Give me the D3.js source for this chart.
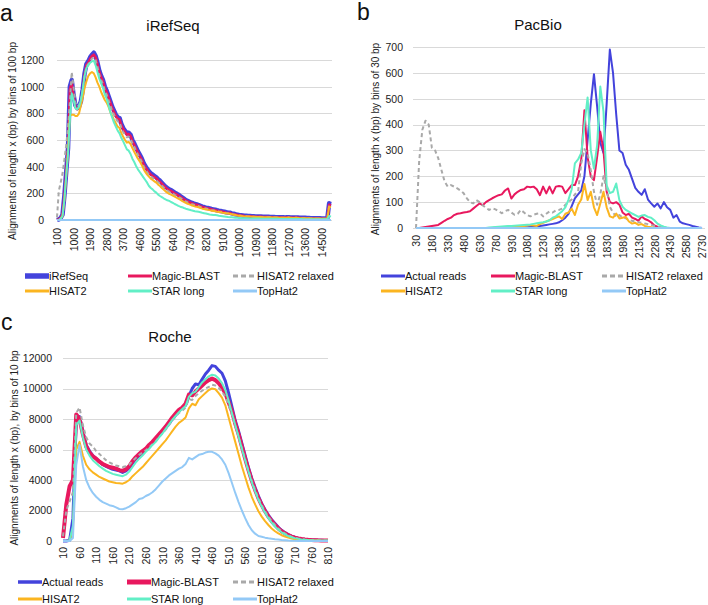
<!DOCTYPE html>
<html><head><meta charset="utf-8">
<script src="https://cdn.jsdelivr.net/npm/d3@7"></script>
<style>
body{margin:0;background:#fff;}
svg{font-family:"Liberation Sans", Arial, Helvetica, sans-serif;}
</style></head><body>
<svg id="chart" width="708" height="605"></svg>
<script>
// ---------- Panel a: iRefSeq (bins of 100 bp) ----------
const aCategories = d3.range(100, 15001, 100);
const aTickLabels = [100,1000,1900,2800,3700,4600,5500,6400,7300,8200,9100,10000,10900,11800,12700,13600,14500];
const aYTicks = [0,200,400,600,800,1000,1200];
const a_iRefSeq = [0,5,15,40,180,360,540,1000,1050,940,
860,840,850,890,980,1100,1170,1190,1220,1240,
1255,1230,1180,1120,1080,1050,1000,970,930,890,
850,820,790,770,765,720,690,670,650,655,
640,600,575,545,515,490,465,430,405,385,
365,350,340,330,320,305,295,280,265,250,
240,230,225,215,205,198,190,180,170,160,
150,143,137,130,126,120,117,112,106,100,
97,93,90,87,83,80,77,73,70,68,
65,62,58,56,55,50,47,43,40,37,
36,34,32,31,30,30,29,28,27,26,
27,26,25,25,24,24,23,22,22,21,
21,20,20,20,19,20,21,19,18,18,
19,18,17,16,17,16,15,15,14,14,
14,13,13,13,12,12,12,12,125,120];
const a_magic = [0,5,15,40,170,350,530,980,1030,930,
850,830,840,880,970,1090,1160,1180,1210,1230,
1240,1220,1170,1110,1070,1040,990,960,920,880,
840,810,780,760,755,710,680,660,640,645,
630,590,565,535,505,480,455,420,395,375,
355,340,330,322,312,297,287,272,258,243,
233,223,218,209,199,192,184,175,165,156,
146,139,133,127,123,117,114,109,103,97,
94,90,87,84,80,77,74,70,67,65,
62,59,55,53,52,47,44,41,38,35,
34,32,30,29,28,28,27,26,25,24,
25,24,23,23,22,22,21,20,20,19,
19,18,18,18,17,18,19,17,16,16,
17,16,15,14,15,14,13,13,12,12,
12,11,11,11,10,10,10,11,115,110];
const a_hisatRelaxed = [20,220,280,350,450,560,700,880,1110,1000,
880,850,860,900,980,1080,1150,1170,1190,1210,
1220,1200,1150,1090,1050,1020,970,940,900,860,
820,790,760,740,735,690,660,640,620,625,
610,575,550,520,490,465,440,405,380,360,
340,326,316,307,297,283,273,259,245,231,
221,212,207,198,189,182,175,166,157,148,
139,132,126,120,116,111,108,103,98,92,
89,86,83,80,76,73,70,67,64,62,
59,56,52,50,49,45,42,39,36,33,
32,30,29,28,27,27,26,25,24,23,
24,23,22,22,21,21,20,19,19,18,
18,17,17,17,16,17,18,16,15,15,
16,15,14,13,14,13,12,12,11,11,
11,10,10,10,9,9,9,10,110,105];
const a_hisat2 = [0,0,10,30,150,330,520,780,790,790,
780,780,800,860,920,990,1040,1080,1100,1110,
1100,1070,1030,1000,960,930,900,880,850,810,
780,750,725,700,690,650,625,600,580,585,
570,540,512,485,460,440,415,385,360,340,
325,310,300,290,280,265,255,240,228,215,
205,196,190,182,175,168,160,152,144,136,
128,122,117,111,107,102,99,95,90,85,
82,79,76,74,70,68,65,62,60,58,
55,53,49,48,47,43,40,37,34,31,
31,29,27,26,26,26,25,24,23,22,
23,22,21,21,20,20,20,19,19,18,
18,17,17,17,16,17,18,16,15,15,
16,15,14,14,14,14,13,13,12,12,
12,11,11,11,10,10,10,10,100,95];
const a_star = [0,0,10,30,150,330,500,750,950,900,
840,830,850,900,980,1080,1140,1160,1180,1190,
1195,1160,1110,1060,1025,990,940,910,860,810,
770,730,700,670,650,615,590,560,530,520,
495,460,435,405,380,360,340,320,300,280,
255,240,230,215,205,190,180,172,163,155,
148,143,135,128,120,113,106,100,96,90,
85,81,77,73,70,66,64,62,58,54,
51,48,45,42,40,38,37,35,32,30,
28,26,24,22,21,20,19,17,16,15,
14,14,13,13,12,12,12,11,11,11,
11,10,10,10,10,10,9,9,9,9,
9,8,8,8,8,8,8,8,7,7,
7,7,7,7,6,6,6,6,6,6,
6,5,5,5,5,5,5,5,30,25];
const a_tophat = [0,0,0,0,0,0,0,0,0,0,
0,0,0,0,0,0,0,0,0,0,
0,0,0,0,0,0,0,0,0,0,
0,0,0,0,0,0,0,0,0,0,
0,0,0,0,0,0,0,0,0,0,
0,0,0,0,0,0,0,0,0,0,
0,0,0,0,0,0,0,0,0,0,
0,0,0,0,0,0,0,0,0,0,
0,0,0,0,0,0,0,0,0,0,
0,0,0,0,0,0,0,0,0,0,
0,0,0,0,0,0,0,0,0,0,
0,0,0,0,0,0,0,0,0,0,
0,0,0,0,0,0,0,0,0,0,
0,0,0,0,0,0,0,0,0,0,
0,0,0,0,0,0,0,0,0,0];

// ---------- Panel b: PacBio (bins of 30 bp) ----------
const bCategories = d3.range(30, 2731, 30);
const bTickLabels = [30,180,330,480,630,780,930,1080,1230,1380,1530,1680,1830,1980,2130,2280,2430,2580,2730];
const bYTicks = [0,100,200,300,400,500,600,700];
const b_actual = [0,0,0,0,0,0,0,0,0,0,
0,0,0,0,0,0,0,0,0,0,
0,0,0,0,0,0,0,0,0,0,
1,1,2,2,3,3,4,5,6,8,
10,12,14,16,18,22,30,40,55,85,
115,130,145,200,340,480,595,470,330,290,
480,690,600,440,300,290,245,225,190,155,
140,128,150,110,95,82,95,76,100,80,
70,40,50,25,18,15,12,8,5,2,0];
const b_magic = [0,0,2,4,6,8,10,12,20,28,
35,40,50,55,57,60,62,65,75,85,
95,88,100,108,115,121,127,130,145,153,
114,130,140,147,150,160,158,160,150,127,
160,134,160,134,160,162,160,135,150,166,
166,200,265,455,275,200,185,275,372,300,
140,100,95,100,90,60,50,55,40,35,
28,45,35,30,22,10,5,2,0,0,
0,0,0,0,0,0,0,0,0,0,0];
const b_hisatRelaxed = [0,260,380,415,400,310,300,270,224,180,
160,166,160,153,145,134,115,100,95,108,
100,88,78,70,76,72,65,57,65,70,
60,51,55,70,60,50,45,51,55,57,
45,55,64,60,68,70,75,90,100,110,
130,140,250,305,289,224,140,90,130,200,
150,82,60,43,50,40,38,30,28,24,
22,20,17,15,12,8,5,3,0,0,
0,0,0,0,0,0,0,0,0,0,0];
const b_hisat2 = [0,0,0,0,0,0,0,0,0,0,
0,0,0,0,0,0,0,0,0,0,
0,0,0,0,0,2,3,3,4,5,
5,5,6,7,8,10,12,10,8,15,
20,25,30,35,40,45,35,55,60,75,
50,90,110,170,108,140,80,50,95,140,
80,45,40,56,37,40,43,25,17,20,
12,15,8,5,3,0,0,0,0,0,
0,0,0,0,0,0,0,0,0,0,0];
const b_star = [0,0,0,0,0,0,0,0,0,0,
0,0,0,0,0,0,0,0,0,0,
0,0,0,2,3,4,5,6,7,8,
8,9,10,11,12,13,14,16,18,20,
22,25,30,40,45,55,65,80,110,150,
250,265,290,400,505,300,230,320,547,450,
165,135,140,172,108,82,70,63,56,50,
43,48,50,43,40,30,17,10,5,2,
0,0,0,0,0,0,0,0,0,0,0];
const b_tophat = [0,0,0,0,0,0,0,0,0,0,
0,0,0,0,0,0,0,0,0,0,
0,0,0,0,0,0,0,0,0,0,
0,0,0,0,0,0,0,0,0,0,
0,0,0,0,0,0,0,0,0,0,
0,0,0,0,0,0,0,0,0,0,
0,0,0,0,0,0,0,0,0,0,
0,0,0,0,0,0,0,0,0,0,
0,0,0,0,0,0,0,0,0,0,0];

// ---------- Panel c: Roche (bins of 10 bp) ----------
const cCategories = d3.range(10, 811, 10);
const cTickLabels = [10,60,110,160,210,260,310,360,410,460,510,560,610,660,710,760,810];
const cYTicks = [0,2000,4000,6000,8000,10000,12000];
const c_actual = [0,0,50,1500,7900,8150,7200,6300,5900,5600,
5400,5200,5000,4900,4800,4700,4650,4600,4500,4600,
4800,5100,5400,5600,5750,6000,6200,6450,6650,6900,
7150,7400,7700,8000,8250,8500,8750,8900,9500,10000,
10300,10250,10600,10950,11200,11500,11450,11200,11000,10500,
9700,8800,7900,7200,6400,5600,4800,4100,3500,2950,
2450,2050,1700,1400,1150,900,700,550,420,320,
250,190,140,110,90,70,60,50,45,40,40];
const c_magic = [200,2400,3600,4000,8300,8000,7000,6200,5800,5550,
5400,5200,5050,4950,4850,4800,4750,4650,4600,4700,
4900,5250,5500,5700,5900,6050,6300,6500,6750,7000,
7250,7500,7800,8100,8350,8600,8750,9000,9600,9550,
9800,10000,10200,10400,10550,10650,10550,10350,10050,9700,
9100,8500,7700,7000,6200,5400,4650,3950,3350,2800,
2350,1950,1600,1300,1050,820,640,500,380,290,
220,170,130,100,80,65,55,45,40,35,35];
const c_hisatRelaxed = [300,2000,2600,3200,8400,8750,7600,6800,6400,6200,
5900,5700,5500,5300,5150,5050,4950,4900,4850,4900,
5000,5250,5450,5650,5800,5950,6150,6350,6550,6800,
7050,7300,7600,7900,8150,8400,8550,8750,9300,9250,
9500,9700,9850,10000,10100,10250,10200,10050,9800,9450,
8900,8300,7550,6850,6100,5350,4600,3950,3350,2800,
2350,1950,1600,1300,1050,820,640,500,380,290,
220,170,130,100,80,65,55,45,40,35,35];
const c_hisat2 = [0,0,30,800,6000,6500,5600,5000,4700,4500,
4350,4200,4100,4000,3900,3850,3800,3780,3760,3850,
4000,4250,4450,4650,4850,5100,5350,5600,5850,6100,
6350,6600,6900,7200,7500,7750,7900,8100,8700,9000,
8900,9300,9500,9700,9900,10000,9950,9700,9400,8900,
8100,7300,6500,5700,4900,4200,3500,2900,2400,1950,
1600,1300,1050,820,640,500,380,290,220,170,
120,90,70,55,45,35,30,25,20,20,20];
const c_star = [0,0,50,1000,7600,7900,6800,6000,5600,5300,
5100,4900,4750,4600,4500,4400,4350,4300,4250,4350,
4550,4850,5150,5400,5600,5850,6050,6300,6500,6800,
7050,7350,7650,7950,8200,8450,8650,8850,9450,9700,
9800,10100,10400,10600,10800,10900,10850,10650,10350,9900,
9200,8400,7600,6850,6050,5300,4550,3850,3250,2700,
2250,1850,1500,1200,950,740,570,430,330,250,
190,140,105,80,60,50,40,35,30,30,30];
const c_tophat = [0,0,0,200,5000,6300,4900,4000,3500,3150,
2900,2700,2550,2450,2350,2300,2200,2100,2080,2150,
2250,2400,2550,2750,2800,2950,3050,3200,3400,3650,
3900,4100,4300,4450,4600,4750,4850,5050,5450,5350,
5500,5650,5700,5800,5850,5850,5750,5600,5350,5000,
4450,3800,3150,2550,2000,1500,1050,700,480,330,
280,220,180,150,120,100,70,50,30,20,
10,5,0,0,0,0,0,0,0,0,0];

// ---------- styles ----------
const COL = {blue:"#4343dc", magic:"#e8185e", grey:"#a9a9a9", hisat:"#fbb520", star:"#62efc6", tophat:"#93c9f6"};

const svg = d3.select("#chart");

function drawPanel(cfg){
  const g = svg.append("g");
  const x = d3.scalePoint().domain(cfg.categories).range([cfg.x0, cfg.x1]);
  const y = d3.scaleLinear().domain([0, cfg.ymax]).range([cfg.yb, cfg.yt]);

  // gridlines
  g.append("g").selectAll("line").data(cfg.yTicks).join("line")
    .attr("x1", cfg.gx0).attr("x2", cfg.gx1)
    .attr("y1", d => Math.round(y(d)) + 0.5).attr("y2", d => Math.round(y(d)) + 0.5)
    .attr("stroke", "#d9d9d9").attr("stroke-width", 1);

  // y axis
  const ya = g.append("g").attr("transform", `translate(${cfg.yLabelRight},0)`)
    .call(d3.axisLeft(y).tickValues(cfg.yTicks).tickFormat(d3.format("d")).tickSize(0).tickPadding(0));
  ya.select(".domain").remove();
  ya.attr("font-family", null).attr("font-size", null);
  ya.selectAll("text").attr("font-size", "10.5px").attr("fill", "#222");

  // x axis
  const xa = g.append("g").attr("transform", `translate(0,${cfg.yb})`)
    .call(d3.axisBottom(x).tickValues(cfg.xTicks).tickFormat(d3.format("d")).tickSize(0));
  xa.select(".domain").remove();
  xa.attr("font-family", null).attr("font-size", null);
  xa.selectAll("text")
    .attr("transform", "rotate(-90)")
    .attr("text-anchor", "end")
    .attr("x", -cfg.xGap).attr("y", 0).attr("dy", "0.35em")
    .attr("font-size", "10.5px").attr("fill", "#222");

  // y axis title
  g.append("text")
    .attr("transform", `translate(${cfg.yTitleX},${cfg.yTitleY}) rotate(-90)`)
    .attr("text-anchor", "middle").attr("dy", "0.35em")
    .attr("font-size", "10px").attr("fill", "#222")
    .text(cfg.yTitle);

  // title
  g.append("text").attr("x", cfg.titleX).attr("y", cfg.titleY)
    .attr("text-anchor", "middle").attr("font-size", "15px").attr("fill", "#111")
    .text(cfg.title);

  // panel letter
  g.append("text").attr("x", cfg.letterX).attr("y", cfg.letterY)
    .attr("font-size", "23px").attr("fill", "#111").text(cfg.letter);

  // series
  const line = d3.line().x((d, i) => x(cfg.categories[i])).y(d => y(d));
  cfg.series.forEach(s => {
    g.append("path").datum(s.values)
      .attr("d", line)
      .attr("fill", "none")
      .attr("stroke", s.color)
      .attr("stroke-width", s.width)
      .attr("stroke-dasharray", s.dash || null)
      .attr("stroke-linejoin", "round");
  });

  // legend
  const lg = g.append("g");
  cfg.series.forEach((s, i) => {
    const col = i % 3, row = Math.floor(i / 3);
    const lx = cfg.legendCols[col], ly = cfg.legendRows[row];
    lg.append("line").attr("x1", lx).attr("x2", lx + 24).attr("y1", ly).attr("y2", ly)
      .attr("stroke", s.color).attr("stroke-width", s.legendWidth || s.width + 0.5)
      .attr("stroke-dasharray", s.dash ? "5,3" : null);
    lg.append("text").attr("x", lx + 24).attr("y", ly).attr("dy", "0.35em")
      .attr("font-size", "11px").attr("fill", "#111").text(s.name);
  });
}

drawPanel({
  categories: aCategories, xTicks: aTickLabels, yTicks: aYTicks, ymax: 1200,
  x0: 57, x1: 331, gx0: 57, gx1: 332, yb: 220, yt: 60, yLabelRight: 44, xGap: 8,
  yTitle: "Alignments of length x (bp) by bins of 100 bp", yTitleX: 12, yTitleY: 141,
  title: "iRefSeq", titleX: 173, titleY: 31, letter: "a", letterX: 0, letterY: 21,
  legendCols: [25, 128, 233], legendRows: [276, 291],
  series: [
    {name: "iRefSeq", values: a_iRefSeq, color: COL.blue, width: 4.5, legendWidth: 5.5},
    {name: "Magic-BLAST", values: a_magic, color: COL.magic, width: 2.5, legendWidth: 3},
    {name: "HISAT2 relaxed", values: a_hisatRelaxed, color: COL.grey, width: 2, dash: "4,3", legendWidth: 3},
    {name: "HISAT2", values: a_hisat2, color: COL.hisat, width: 2, legendWidth: 3},
    {name: "STAR long", values: a_star, color: COL.star, width: 2, legendWidth: 3},
    {name: "TopHat2", values: a_tophat, color: COL.tophat, width: 2, legendWidth: 3}
  ]
});

drawPanel({
  categories: bCategories, xTicks: bTickLabels, yTicks: bYTicks, ymax: 700,
  x0: 416, x1: 702, gx0: 413, gx1: 705, yb: 228, yt: 47, yLabelRight: 403, xGap: 7,
  yTitle: "Alignments of length x (bp) by bins of 30 bp", yTitleX: 375, yTitleY: 139,
  title: "PacBio", titleX: 538, titleY: 30, letter: "b", letterX: 357, letterY: 20,
  legendCols: [381, 491, 602], legendRows: [276, 291],
  series: [
    {name: "Actual reads", values: b_actual, color: COL.blue, width: 2, legendWidth: 3},
    {name: "Magic-BLAST", values: b_magic, color: COL.magic, width: 2, legendWidth: 3},
    {name: "HISAT2 relaxed", values: b_hisatRelaxed, color: COL.grey, width: 2, dash: "4,3", legendWidth: 3},
    {name: "HISAT2", values: b_hisat2, color: COL.hisat, width: 2, legendWidth: 3},
    {name: "STAR long", values: b_star, color: COL.star, width: 2, legendWidth: 3},
    {name: "TopHat2", values: b_tophat, color: COL.tophat, width: 2, legendWidth: 3}
  ]
});

drawPanel({
  categories: cCategories, xTicks: cTickLabels, yTicks: cYTicks, ymax: 12000,
  x0: 63, x1: 328, gx0: 63, gx1: 328, yb: 541, yt: 358, yLabelRight: 52, xGap: 6,
  yTitle: "Alignments of length x (bp), by bins of 10 bp", yTitleX: 14, yTitleY: 448,
  title: "Roche", titleX: 170, titleY: 342, letter: "c", letterX: 1, letterY: 330,
  legendCols: [18, 127, 233], legendRows: [582, 599],
  series: [
    {name: "Actual reads", values: c_actual, color: COL.blue, width: 3, legendWidth: 3.5},
    {name: "Magic-BLAST", values: c_magic, color: COL.magic, width: 4, legendWidth: 5},
    {name: "HISAT2 relaxed", values: c_hisatRelaxed, color: COL.grey, width: 2, dash: "4,3", legendWidth: 3},
    {name: "HISAT2", values: c_hisat2, color: COL.hisat, width: 2, legendWidth: 3},
    {name: "STAR long", values: c_star, color: COL.star, width: 2, legendWidth: 3},
    {name: "TopHat2", values: c_tophat, color: COL.tophat, width: 2, legendWidth: 3}
  ]
});
</script>
</body></html>
